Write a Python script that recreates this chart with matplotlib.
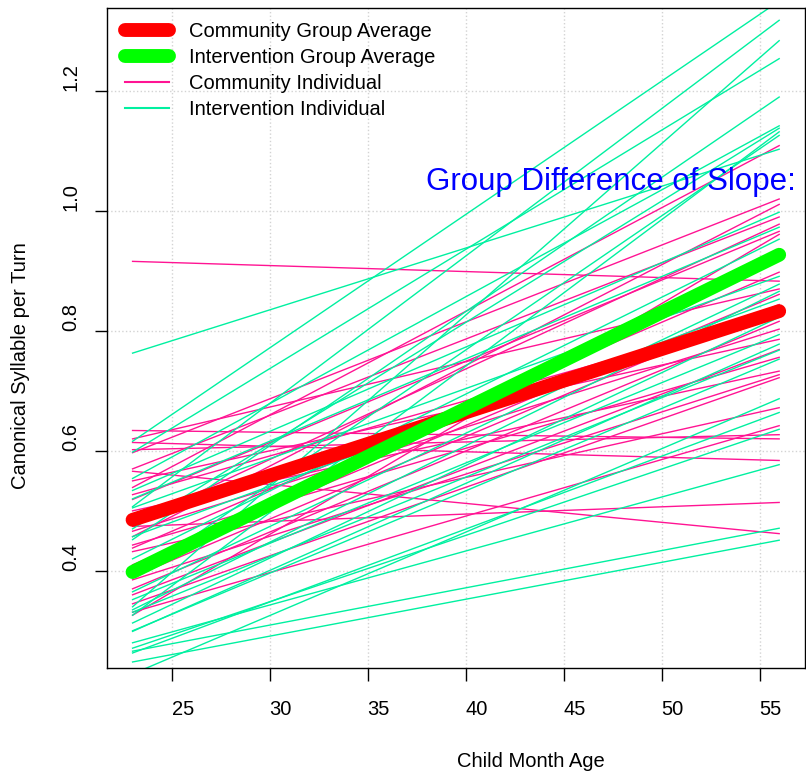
import matplotlib
matplotlib.use("Agg")
from matplotlib import pyplot as plt
from matplotlib.transforms import ScaledTranslation

plt.rcParams['font.family'] = ['Liberation Sans', 'DejaVu Sans']

# age range of the fitted lines (months)
age_range = [23, 56]

# group average fits: value at 23 and at 56 months
community_avg = [0.485, 0.833]
intervention_avg = [0.398, 0.927]

# individual fits, value at 23 months and at 56 months
community_start = [0.916, 0.634, 0.614, 0.602, 0.566, 0.474,
                   0.620, 0.597, 0.570, 0.550, 0.539, 0.527, 0.519, 0.500,
                   0.480, 0.466, 0.457, 0.443, 0.438, 0.432, 0.410, 0.390,
                   0.385, 0.370, 0.360, 0.345, 0.331, 0.326]
community_end = [0.883, 0.620, 0.584, 0.627, 0.462, 0.514,
                 0.870, 1.020, 0.990, 0.786, 1.109, 0.831, 0.966, 0.733,
                 0.978, 0.803, 1.011, 0.756, 0.898, 0.672, 0.861, 0.844,
                 0.727, 0.816, 0.769, 0.722, 0.642, 0.961]

intervention_start = [0.763, 0.616, 0.598, 0.554, 0.534, 0.520, 0.507, 0.505,
                      0.470, 0.457, 0.452, 0.420, 0.388, 0.365, 0.352, 0.340,
                      0.335, 0.331, 0.326, 0.313, 0.300, 0.299, 0.280, 0.271,
                      0.263, 0.228, 0.266, 0.248]
intervention_end = [1.103, 1.350, 1.254, 1.142, 0.998, 0.973, 1.318, 0.891,
                    1.138, 0.853, 1.190, 0.953, 1.126, 0.878, 0.794, 1.284,
                    0.866, 0.768, 1.132, 0.823, 0.753, 0.778, 0.577, 0.636,
                    0.664, 0.687, 0.471, 0.451]

x_ticks = [25, 30, 35, 40, 45, 50, 55]
y_ticks = [0.4, 0.6, 0.8, 1.0, 1.2]

fig = plt.figure(figsize=(8.06, 7.75), dpi=100)
ax = fig.add_axes([0.1324, 0.1381, 0.8664, 0.8512])

pink = '#FF1493'
teal = '#00F0A0'

for s, e in zip(community_start, community_end):
    ax.plot(age_range, [s, e], color=pink, lw=1.0)
for s, e in zip(intervention_start, intervention_end):
    ax.plot(age_range, [s, e], color=teal, lw=1.0)

ax.plot(age_range, community_avg, color='#FF0000', lw=10, solid_capstyle='round')
ax.plot(age_range, intervention_avg, color='#00FF00', lw=10, solid_capstyle='round')

# legend handles only
h1, = ax.plot([], [], color='#FF0000', lw=10, solid_capstyle='round')
h2, = ax.plot([], [], color='#00FF00', lw=10, solid_capstyle='round')
h3, = ax.plot([], [], color=pink, lw=1.5)
h4, = ax.plot([], [], color=teal, lw=1.5)
ax.legend([h1, h2, h3, h4],
          ['Community Group Average', 'Intervention Group Average',
           'Community Individual', 'Intervention Individual'],
          loc='upper left', bbox_to_anchor=(0.026, 0.979), frameon=False,
          fontsize=14.5, handlelength=2.2, handletextpad=1.0,
          labelspacing=0.35, borderpad=0, borderaxespad=0)

ax.text(38.0, 1.048, 'Group Difference of Slope:', color='#0000FF',
        fontsize=22.5, ha='left', va='center')

ax.set_xlim(21.68, 57.32)
ax.set_ylim(0.238, 1.338)
ax.set_xticks(x_ticks)
ax.set_yticks(y_ticks)
ax.set_xticklabels([str(v) for v in x_ticks])
ax.set_yticklabels(['0.4', '0.6', '0.8', '1.0', '1.2'], rotation=90, va='center')
ax.tick_params(axis='both', labelsize=14.5, length=9, width=1.0)
ax.tick_params(axis='x', pad=14)
ax.tick_params(axis='y', pad=10)

# R style offsets of the tick labels
for lab in ax.get_xticklabels():
    lab.set_transform(lab.get_transform() + ScaledTranslation(11 / 100, 0, fig.dpi_scale_trans))
for lab in ax.get_yticklabels():
    lab.set_transform(lab.get_transform() + ScaledTranslation(0, 14 / 100, fig.dpi_scale_trans))

ax.grid(True, color='#D3D3D3', linestyle=':', lw=1.0)
ax.set_axisbelow(True)
for sp in ax.spines.values():
    sp.set_linewidth(1.0)

ax.set_xlabel('Child Month Age', fontsize=14.5)
ax.xaxis.set_label_coords(0.6076, -0.127)
ax.set_ylabel('Canonical Syllable per Turn', fontsize=14.5)
ax.yaxis.set_label_coords(-0.110, 0.459)

fig.savefig('out.png', dpi=100)
